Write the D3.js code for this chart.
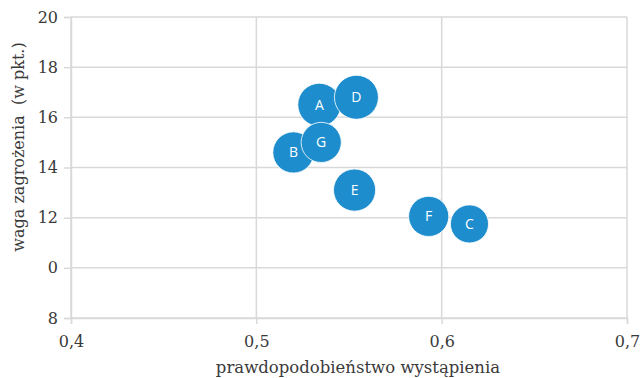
<!DOCTYPE html>
<html>
<head>
<meta charset="utf-8">
<script src="https://cdn.jsdelivr.net/npm/d3@7"></script>
<style>
  html, body { margin: 0; padding: 0; background: #fff; }
  svg { display: block; }
</style>
</head>
<body>
<svg id="chart" width="643" height="378"></svg>
<script>
// Risk bubbles: probability of occurrence vs. threat weight
const labels = ["A", "B", "C", "D", "E", "F", "G"];
const probability = [0.534, 0.520, 0.615, 0.554, 0.553, 0.593, 0.535];
const weight = [16.5, 14.6, 11.75, 16.8, 13.1, 12.05, 15.0];
const bubbleSize = [4.6, 4.2, 3.6, 4.8, 4.4, 4.0, 4.0];

const xTicks = [0.4, 0.5, 0.6, 0.7];
const xTickLabels = ["0,4", "0,5", "0,6", "0,7"];
const yTicks = [8, 10, 12, 14, 16, 18, 20];
const yTickLabels = ["8", "0", "12", "14", "16", "18", "20"];

const svg = d3.select("#chart");
const margin = { left: 71, right: 16, top: 17, bottom: 60 };
const W = 643, H = 378;

const x = d3.scaleLinear().domain([0.4, 0.7]).range([margin.left, W - margin.right]);
const y = d3.scaleLinear().domain([8, 20]).range([H - margin.bottom, margin.top]);
const r = d3.scaleSqrt().domain([0, 4.8]).range([0, 22]);

const gridColor = "#d9d9d9";
const axisFont = "'DejaVu Serif', serif";
const textColor = "#3a3a3a";

// gridlines
svg.append("g").selectAll("line.h").data(yTicks).join("line")
  .attr("x1", x(0.4)).attr("x2", x(0.7))
  .attr("y1", d => y(d)).attr("y2", d => y(d))
  .attr("stroke", gridColor).attr("stroke-width", 1.5);
svg.append("g").selectAll("line.v").data(xTicks).join("line")
  .attr("x1", d => x(d)).attr("x2", d => x(d))
  .attr("y1", y(8)).attr("y2", y(20))
  .attr("stroke", gridColor).attr("stroke-width", 1.5);

// axes
const xAxis = d3.axisBottom(x).tickValues(xTicks)
  .tickFormat((d, i) => xTickLabels[i]).tickSize(6).tickPadding(12);
const yAxis = d3.axisLeft(y).tickValues(yTicks)
  .tickFormat((d, i) => yTickLabels[i]).tickSize(7).tickPadding(6);

const gx = svg.append("g").attr("transform", `translate(0,${y(8)})`).call(xAxis);
const gy = svg.append("g").attr("transform", `translate(${x(0.4)},0)`).call(yAxis);
[gx, gy].forEach(g => {
  g.select(".domain").attr("stroke", gridColor).attr("stroke-width", 1.5);
  g.selectAll(".tick line").attr("stroke", gridColor).attr("stroke-width", 1.5);
  g.selectAll(".tick text").attr("fill", textColor)
    .style("font-family", axisFont).style("font-size", "16px");
});

// axis titles
svg.append("text")
  .attr("x", 358).attr("y", 373)
  .attr("text-anchor", "middle")
  .attr("fill", textColor)
  .style("font-family", axisFont).style("font-size", "16.5px")
  .text("prawdopodobieństwo wystąpienia");

svg.append("text")
  .attr("transform", "translate(24,147) rotate(-90)")
  .attr("text-anchor", "middle")
  .attr("fill", textColor)
  .style("font-family", axisFont).style("font-size", "16px")
  .attr("xml:space", "preserve")
  .text("waga zagrożenia  (w pkt.)");

// bubbles
const data = labels.map((l, i) => ({ label: l, p: probability[i], w: weight[i], s: bubbleSize[i] }));
const g = svg.append("g");
g.selectAll("circle").data(data).join("circle")
  .attr("cx", d => x(d.p)).attr("cy", d => y(d.w)).attr("r", d => r(d.s))
  .attr("fill", "#1e8dcd").attr("stroke", "#ffffff").attr("stroke-width", 0.8);
g.selectAll("text").data(data).join("text")
  .attr("x", d => x(d.p)).attr("y", d => y(d.w))
  .attr("dy", "0.35em").attr("text-anchor", "middle")
  .attr("fill", "#ffffff")
  .style("font-family", "'Open Sans', sans-serif").style("font-size", "14px")
  .text(d => d.label);
</script>
</body>
</html>
